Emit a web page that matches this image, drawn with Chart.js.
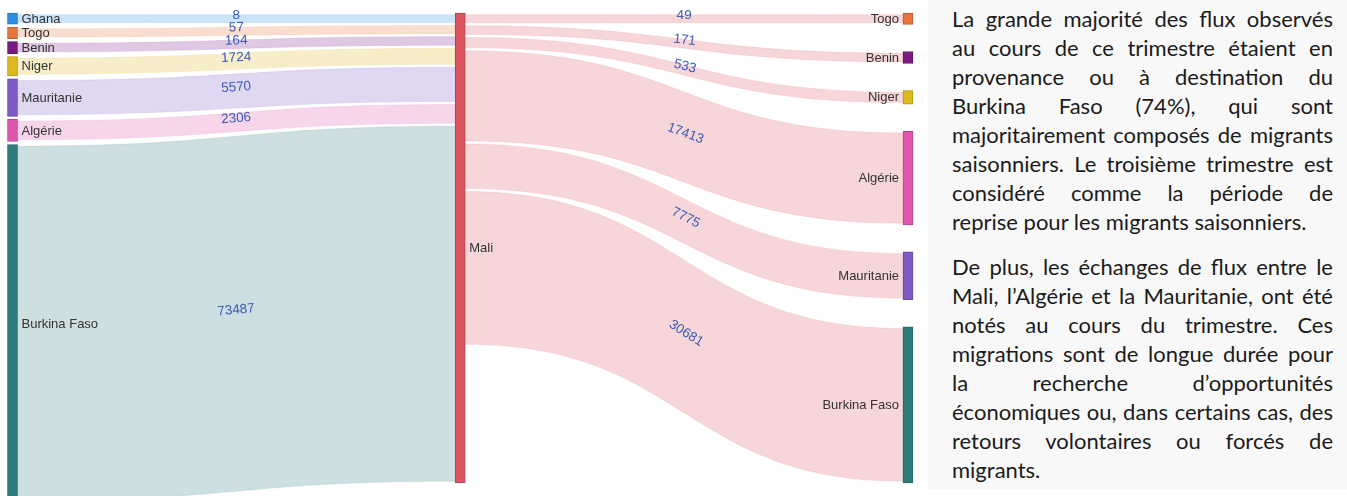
<!DOCTYPE html>
<html lang="fr">
<head>
<meta charset="utf-8">
<title>Flux migratoires via le Mali</title>
<script src="https://cdn.jsdelivr.net/npm/chart.js@4.4.0/dist/chart.umd.min.js"></script>
<style>
  html, body { margin: 0; padding: 0; background: #fff; }
  #wrap { position: relative; width: 1347px; height: 496px; overflow: hidden; }
  #chartBox { position: absolute; left: 0; top: 0; width: 922px; height: 496px; }
  #note {
    position: absolute; left: 928px; top: 0; width: 419px; height: 489px;
    background: #f8f8f8; box-sizing: border-box; padding: 4px 14px 0 24px;
    font-family: Lato, "Open Sans", sans-serif; font-size: 22px; color: #1b1b1b;
  }
  #note p { margin: 0 0 16px 0; }
  #note .l { display: block; line-height: 29px; text-align: justify; text-align-last: justify; }
  #note .end { text-align-last: left; }
</style>
</head>
<body>
<div id="wrap">
  <div id="chartBox"><canvas id="sankeyChart"></canvas></div>
  <div id="note">
    <p>
      <span class="l">La grande majorité des flux observés</span>
      <span class="l">au cours de ce trimestre étaient en</span>
      <span class="l">provenance ou à destination du</span>
      <span class="l">Burkina Faso (74%), qui sont</span>
      <span class="l">majoritairement composés de migrants</span>
      <span class="l">saisonniers. Le troisième trimestre est</span>
      <span class="l">considéré comme la période de</span>
      <span class="l end">reprise pour les migrants saisonniers.</span>
    </p>
    <p>
      <span class="l">De plus, les échanges de flux entre le</span>
      <span class="l">Mali, l’Algérie et la Mauritanie, ont été</span>
      <span class="l">notés au cours du trimestre. Ces</span>
      <span class="l">migrations sont de longue durée pour</span>
      <span class="l">la recherche d’opportunités</span>
      <span class="l">économiques ou, dans certains cas, des</span>
      <span class="l">retours volontaires ou forcés de</span>
      <span class="l end">migrants.</span>
    </p>
  </div>
</div>
<script>
// data
const hubNode = 'Mali';
const sourceNodes = ['Ghana', 'Togo', 'Benin', 'Niger', 'Mauritanie', 'Algérie', 'Burkina Faso'];
const inflowValues = [8, 57, 164, 1724, 5570, 2306, 73487];
const targetNodes = ['Togo', 'Benin', 'Niger', 'Algérie', 'Mauritanie', 'Burkina Faso'];
const outflowValues = [49, 171, 533, 17413, 7775, 30681];
const columnLabels = ['Origine', 'Mali', 'Destination'];

const nodeColors = {
  'Ghana': '#2b8fe6',
  'Togo': '#e8743b',
  'Benin': '#7a1a80',
  'Niger': '#dcb91c',
  'Mauritanie': '#7e5bc6',
  'Algérie': '#df55b0',
  'Burkina Faso': '#2e7b7c',
  'Mali': '#dc5560'
};

// sankey look (in flow units)
const LINK_PAD = 1670;   // every link gets a minimum thickness
const LINK_GAP = 630;
const NODE_PAD = 700;
const NODE_W = 10;

function sum(arr) { return arr.reduce((s, v) => s + v, 0); }
function thick(v) { return v + LINK_PAD; }

const inSpan = sum(inflowValues.map(thick)) + (inflowValues.length - 1) * LINK_GAP;
const outSpan = sum(outflowValues.map(thick)) + (outflowValues.length - 1) * LINK_GAP;
const hubSize = Math.max(inSpan, outSpan) + NODE_PAD;

// stack the nodes of a side column, spread over the hub height
function stackColumn(values) {
  const sizes = values.map(v => thick(v) + NODE_PAD);
  const gap = Math.max(LINK_GAP, (hubSize - sum(sizes)) / (values.length - 1));
  let y = 0;
  return sizes.map(s => { const r = [y, y + s]; y += s + gap; return r; });
}
// where each link enters / leaves the hub
function hubSlots(values) {
  let y = NODE_PAD / 2;
  return values.map(v => { const r = [y, y + thick(v)]; y += thick(v) + LINK_GAP; return r; });
}

const leftRanges = stackColumn(inflowValues);
const rightRanges = stackColumn(outflowValues);
const inHub = hubSlots(inflowValues);
const outHub = hubSlots(outflowValues);

const links = [];
inflowValues.forEach((v, i) => {
  const s0 = leftRanges[i][0] + NODE_PAD / 2;
  links.push({ from: 0, to: 1, value: v, src: [s0, s0 + thick(v)], dst: inHub[i], color: nodeColors[sourceNodes[i]] });
});
outflowValues.forEach((v, i) => {
  const d0 = rightRanges[i][0] + NODE_PAD / 2;
  links.push({ from: 1, to: 2, value: v, src: outHub[i], dst: [d0, d0 + thick(v)], color: nodeColors[hubNode] });
});

function hexA(hex, a) {
  const n = parseInt(hex.slice(1), 16);
  return 'rgba(' + (n >> 16) + ',' + ((n >> 8) & 255) + ',' + (n & 255) + ',' + a + ')';
}
function darker(hex) {
  const n = parseInt(hex.slice(1), 16);
  const f = c => Math.round(c * 0.8);
  return 'rgb(' + f(n >> 16) + ',' + f((n >> 8) & 255) + ',' + f(n & 255) + ')';
}

// one dataset per row, three columns
const rows = Math.max(sourceNodes.length, targetNodes.length);
const datasets = [];
for (let r = 0; r < rows; r++) {
  const names = [sourceNodes[r], r === 0 ? hubNode : null, targetNodes[r]];
  datasets.push({
    data: [leftRanges[r] || null, r === 0 ? [0, hubSize] : null, rightRanges[r] || null],
    nodeNames: names,
    backgroundColor: names.map(n => n ? nodeColors[n] : 'transparent'),
    borderColor: names.map(n => n ? darker(nodeColors[n]) : 'transparent'),
    borderWidth: 1,
    borderSkipped: false,
    grouped: false,
    barThickness: NODE_W,
    clip: false
  });
}

const sankeyPlugin = {
  id: 'sankeyPlugin',
  beforeDatasetsDraw(chart) {
    const { ctx, scales: { x, y } } = chart;
    ctx.save();
    links.forEach(l => {
      const x0 = x.getPixelForValue(l.from) + NODE_W / 2;
      const x1 = x.getPixelForValue(l.to) - NODE_W / 2;
      const xm = (x0 + x1) / 2;
      const a0 = y.getPixelForValue(l.src[0]), a1 = y.getPixelForValue(l.src[1]);
      const b0 = y.getPixelForValue(l.dst[0]), b1 = y.getPixelForValue(l.dst[1]);
      ctx.beginPath();
      ctx.moveTo(x0, a0);
      ctx.bezierCurveTo(xm, a0, xm, b0, x1, b0);
      ctx.lineTo(x1, b1);
      ctx.bezierCurveTo(xm, b1, xm, a1, x0, a1);
      ctx.closePath();
      ctx.fillStyle = hexA(l.color, 0.24);
      ctx.fill();
      ctx.strokeStyle = hexA(l.color, 0.12);
      ctx.lineWidth = 1;
      ctx.stroke();
    });
    ctx.restore();
  },
  afterDatasetsDraw(chart) {
    const { ctx, scales: { x, y } } = chart;
    ctx.save();
    // flow values along the links
    ctx.font = '13.5px Arial, "Liberation Sans", sans-serif';
    ctx.fillStyle = '#3a5bb8';
    ctx.textAlign = 'center';
    ctx.textBaseline = 'alphabetic';
    links.forEach(l => {
      const x0 = x.getPixelForValue(l.from) + NODE_W / 2;
      const x1 = x.getPixelForValue(l.to) - NODE_W / 2;
      const ya = y.getPixelForValue((l.src[0] + l.src[1]) / 2);
      const yb = y.getPixelForValue((l.dst[0] + l.dst[1]) / 2);
      const ang = Math.atan2(1.5 * (yb - ya), 0.75 * (x1 - x0));
      ctx.save();
      ctx.translate((x0 + x1) / 2, (ya + yb) / 2);
      ctx.rotate(ang);
      ctx.fillText(String(l.value), 0, 0);
      ctx.restore();
    });
    // node names
    ctx.font = '13px Arial, "Liberation Sans", sans-serif';
    ctx.fillStyle = '#333';
    ctx.textBaseline = 'middle';
    chart.data.datasets.forEach(ds => {
      ds.data.forEach((d, col) => {
        if (!d) return;
        const yc = (y.getPixelForValue(d[0]) + y.getPixelForValue(d[1])) / 2 + 0.5;
        const cx = x.getPixelForValue(col);
        if (col === 2) {
          ctx.textAlign = 'right';
          ctx.fillText(ds.nodeNames[col], cx - NODE_W / 2 - 4, yc);
        } else {
          ctx.textAlign = 'left';
          ctx.fillText(ds.nodeNames[col], cx + NODE_W / 2 + 4, yc);
        }
      });
    });
    ctx.restore();
  }
};

new Chart(document.getElementById('sankeyChart'), {
  type: 'bar',
  data: { labels: columnLabels, datasets: datasets },
  options: {
    responsive: true,
    maintainAspectRatio: false,
    animation: false,
    events: [],
    layout: { padding: { left: 12.5, right: 14, top: 13, bottom: 13 } },
    scales: {
      x: { type: 'category', offset: false, display: false },
      y: { type: 'linear', min: 0, max: hubSize, reverse: true, display: false }
    },
    plugins: { legend: { display: false }, tooltip: { enabled: false } }
  },
  plugins: [sankeyPlugin]
});
</script>
</body>
</html>
